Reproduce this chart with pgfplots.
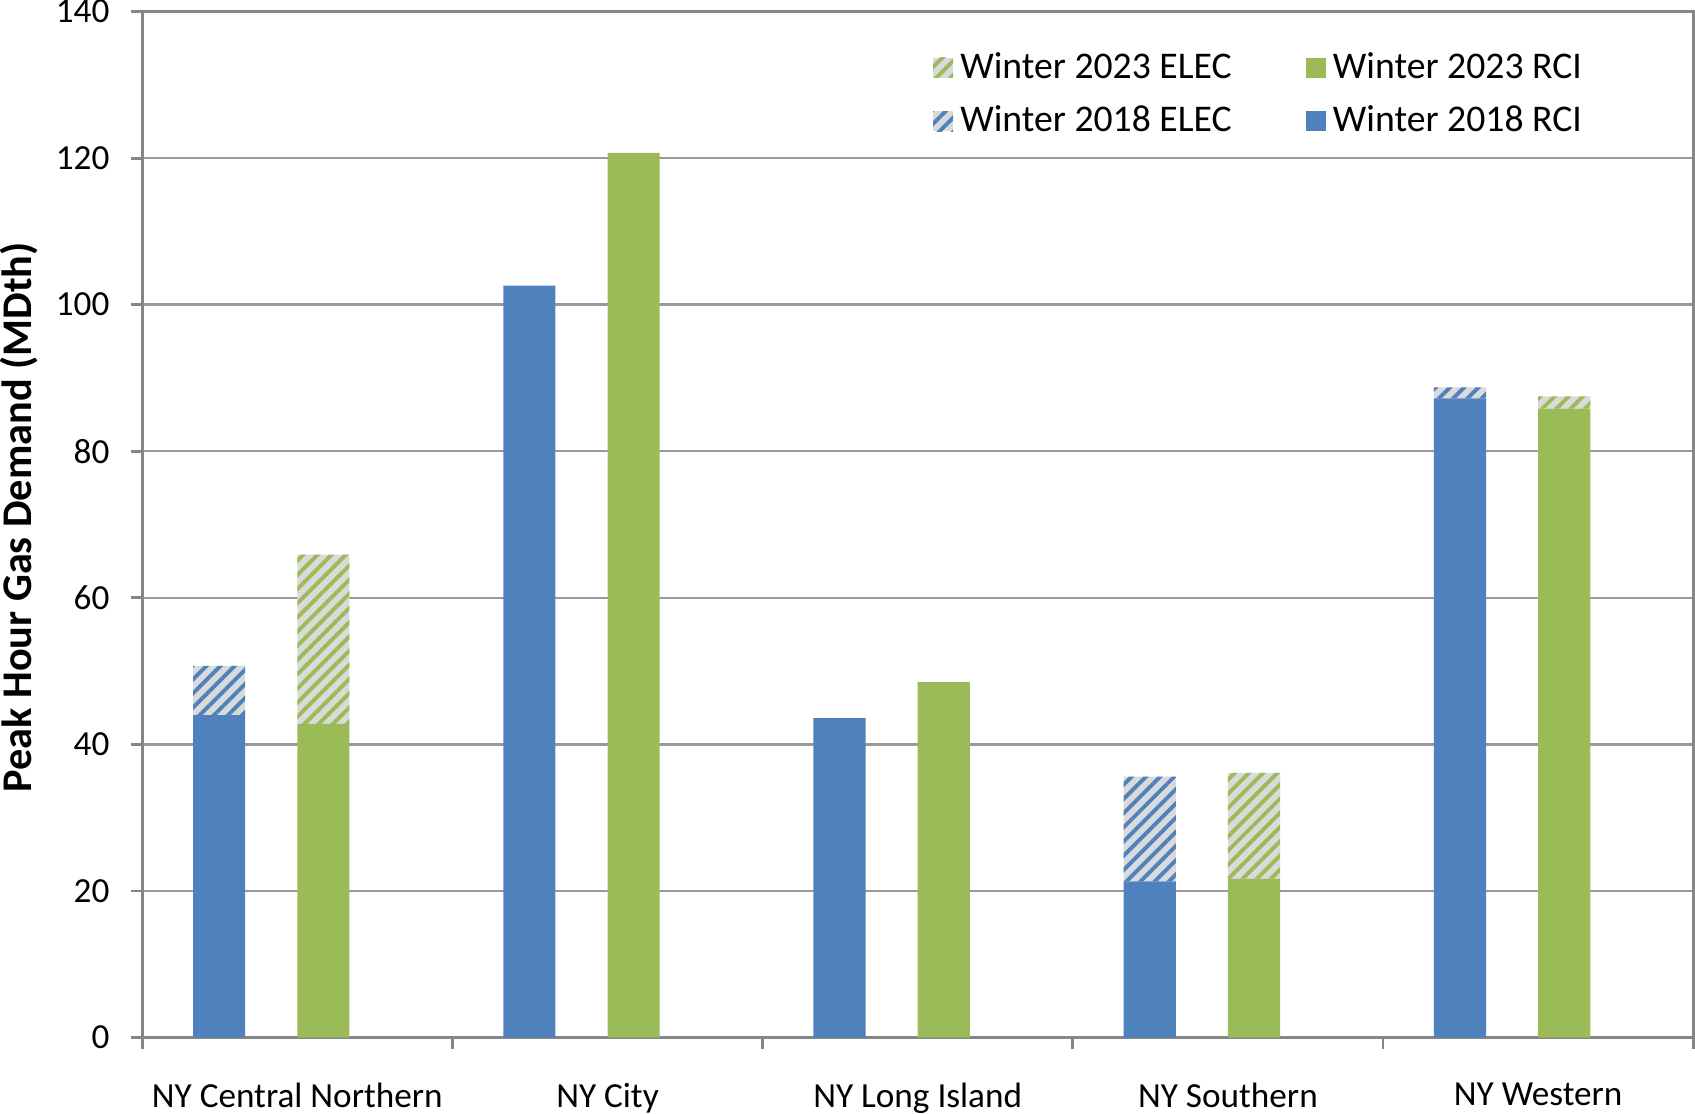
\documentclass[border=0pt]{standalone}
\usepackage{pgfplots}
\pgfplotsset{compat=1.18}
\usepackage{pgfplotstable}
\usetikzlibrary{patterns.meta}
\usepackage{fontspec}
\setmainfont{Carlito}

\definecolor{rciblue}{HTML}{4F81BD}
\definecolor{rcigreen}{HTML}{9BBB59}
\definecolor{hatchbg}{HTML}{DADADA}
\definecolor{gridgray}{HTML}{999999}
\definecolor{axisgray}{HTML}{868686}

% x = category index shifted to the bar slot (2018 left, 2023 right);
% every series has all slots so that stacking stays per slot
\pgfplotstableread{
x      brci   belec  grci   gelec
-0.252 44.0   6.7    0      0
0.084  0      0      42.8   23.1
0.748  102.6  0      0      0
1.084  0      0      120.7  0
1.748  43.6   0      0      0
2.084  0      0      48.5   0
2.748  21.3   14.3   0      0
3.084  0      0      21.7   14.4
3.748  87.2   1.5    0      0
4.084  0      0      85.8   1.7
}\demand

\tikzset{
  hatchblue/.style={fill=hatchbg, postaction={pattern={Lines[angle=45,distance=2.85pt,line width=1.1pt]}, pattern color=rciblue}},
  hatchgreen/.style={fill=hatchbg, postaction={pattern={Lines[angle=45,distance=2.85pt,line width=1.1pt]}, pattern color=rcigreen}},
}

\begin{document}
\begin{tikzpicture}
\begin{axis}[
    scale only axis,
    width=15.48cm, height=10.24cm,
    xmin=-0.5, xmax=4.5,
    ymin=0, ymax=140,
    ybar stacked,
    bar width=0.168,
    bar shift=0pt,
    ytick={0,20,...,140},
    xtick={-0.5,0.5,...,4.5},
    xticklabels={},
    xticklabel style={inner sep=0pt},
    extra x ticks={0,1,2,3,4},
    extra x tick labels={NY Central Northern, NY City, NY Long Island, NY Southern, NY Western},
    extra x tick style={major tick length=0pt, xticklabel style={inner sep=0pt, yshift=-0.447cm}},
    tick pos=left,
    tick align=outside,
    major tick length=0.11cm,
    tick style={axisgray, line width=0.8pt},
    axis line style={axisgray, line width=0.8pt},
    ymajorgrids,
    grid style={gridgray, line width=0.7pt},
    /pgf/number format/assume math mode=true,
    tick label style={font=\fontsize{10}{12}\selectfont, black},
    yticklabel style={inner sep=0pt, xshift=-0.21cm},
    ylabel={Peak Hour Gas Demand (MDth)},
    every axis y label/.style={at={(axis description cs:-0.0795,0.507)}, rotate=90, anchor=center, inner sep=0pt, font=\fontsize{12}{14}\selectfont\bfseries},
    legend columns=2,
    legend cell align=left,
    legend image code/.code={\fill[draw=none, #1] (0cm,-0.1cm) rectangle (0.2cm,0.1cm);},
    legend style={draw=none, fill=none, inner sep=0pt, at={(0.5095,0.919)}, anchor=west,
        font=\fontsize{10.7}{12.8}\selectfont, row sep=0.08cm,
        /tikz/every even column/.append style={column sep=0.67cm}},
]
\addplot[fill=rciblue, draw=none, forget plot] table[x=x, y=brci] {\demand};
\addplot[fill=rcigreen, draw=none, forget plot] table[x=x, y=grci] {\demand};
\addplot[hatchblue, draw=none, forget plot] table[x=x, y=belec] {\demand};
\addplot[hatchgreen, draw=none, forget plot] table[x=x, y=gelec] {\demand};

\addlegendimage{hatchgreen, draw=none}
\addlegendentry{Winter 2023 ELEC}
\addlegendimage{fill=rcigreen, draw=none}
\addlegendentry{Winter 2023 RCI}
\addlegendimage{hatchblue, draw=none}
\addlegendentry{Winter 2018 ELEC}
\addlegendimage{fill=rciblue, draw=none}
\addlegendentry{Winter 2018 RCI}
\end{axis}
\end{tikzpicture}
\end{document}
